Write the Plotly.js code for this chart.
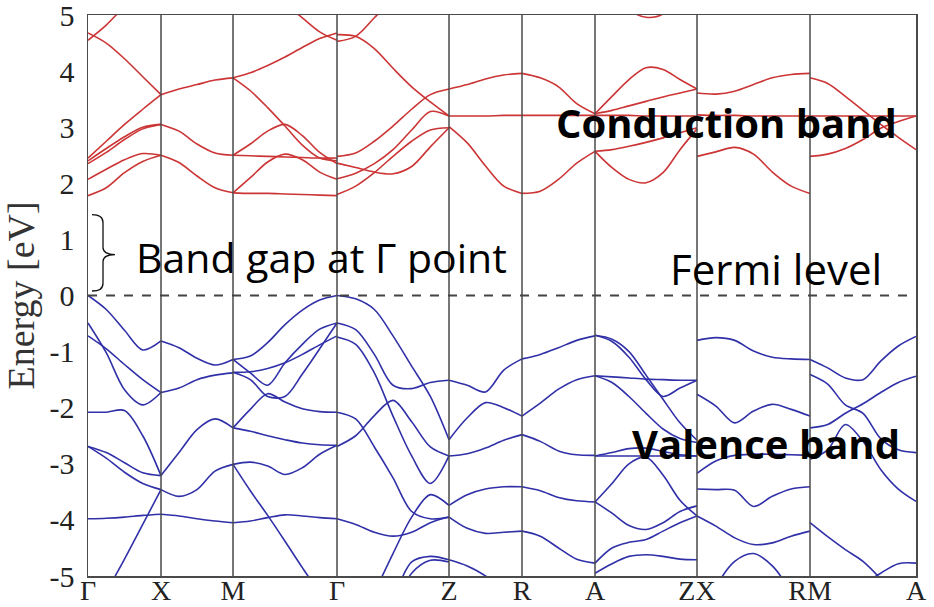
<!DOCTYPE html>
<html>
<head>
<meta charset="utf-8">
<script src="https://cdn.plot.ly/plotly-3.0.1.min.js"></script>
<style>html,body{margin:0;padding:0;background:#fff}#chart{width:934px;height:607px}</style>
</head>
<body>
<div id="chart"></div>
<script>
// High-symmetry path (k distance along path) and labels
const kLabels = ['Γ','X','M','Γ','Z','R','A','ZX','RM','A'];
const kPos = [0, 73, 145, 249, 361, 434, 507, 609, 722, 828];
const yTickVals = [5,4,3,2,1,0,-1,-2,-3,-4,-5];
const yTickText = ['5','4','3','2','1','0','-1','-2','-3','-4','-5'];

// ---------- Conduction bands (eV), sampled evenly between the two path points ----------
const cbGX = [
  [4.68, 4.50, 4.22, 3.90, 3.58],
  [4.55, 4.82, 5.15, 5.40, 5.60],
  [2.45, 2.75, 3.05, 3.32, 3.58],
  [2.40, 2.62, 2.83, 3.00, 3.05],
  [2.35, 2.55, 2.78, 2.97, 3.05],
  [2.07, 2.25, 2.42, 2.53, 2.50],
  [1.78, 1.92, 2.19, 2.39, 2.50]
];
const cbXM = [
  [3.58, 3.68, 3.76, 3.84, 3.88],
  [3.05, 2.93, 2.70, 2.54, 2.50],
  [2.50, 2.37, 2.13, 1.92, 1.83]
];
const cbMG = [
  [3.88, 3.97, 4.10, 4.25, 4.42, 4.58, 4.68],
  [6.00, 5.80, 5.50, 5.20, 4.95, 4.70, 4.55],
  [3.88, 3.65, 3.35, 3.02, 2.68, 2.45, 2.40],
  [2.50, 2.70, 2.93, 3.05, 2.85, 2.55, 2.35],
  [2.50, 2.49, 2.48, 2.47, 2.46, 2.45, 2.45],
  [1.83, 2.10, 2.38, 2.52, 2.42, 2.20, 2.07],
  [1.83, 1.82, 1.82, 1.81, 1.80, 1.79, 1.78]
];
const cbGZ = [
  [4.53, 4.62, 4.95, 5.30, 5.70, 6.10, 6.50],
  [4.65, 4.62, 4.40, 4.05, 3.72, 3.45, 3.20],
  [2.48, 2.54, 2.75, 3.02, 3.32, 3.58, 3.68],
  [2.36, 2.28, 2.20, 2.17, 2.30, 2.65, 2.99],
  [2.08, 2.18, 2.35, 2.60, 2.95, 3.28, 3.20],
  [1.80, 1.95, 2.19, 2.48, 2.75, 2.95, 2.99]
];
const cbZR = [
  [3.68, 3.76, 3.86, 3.93, 3.96],
  [3.20, 3.20, 3.20, 3.21, 3.21],
  [3.01, 2.72, 2.31, 1.95, 1.82]
];
const cbRA = [
  [3.96, 3.88, 3.72, 3.42, 3.24],
  [3.21, 3.21, 3.21, 3.21, 3.21],
  [1.82, 1.86, 2.07, 2.36, 2.57]
];
const cbAZ = [
  [3.24, 3.55, 3.85, 4.06, 4.03, 3.85, 3.68],
  [3.24, 3.30, 3.38, 3.46, 3.54, 3.61, 3.68],
  [3.21, 3.21, 3.21, 3.20, 3.20, 3.20, 3.20],
  [2.57, 2.28, 2.07, 2.01, 2.19, 2.60, 2.97],
  [2.57, 2.60, 2.66, 2.73, 2.81, 2.90, 2.99],
  [5.80, 5.50, 5.10, 4.96, 5.02, 5.40, 5.80]
];
const cbXR = [
  [3.61, 3.59, 3.64, 3.76, 3.88, 3.94, 3.96],
  [3.22, 3.21, 3.21, 3.20, 3.20, 3.20, 3.20],
  [2.48, 2.56, 2.64, 2.52, 2.20, 1.95, 1.82]
];
const cbMA = [
  [3.88, 3.78, 3.55, 3.30, 3.05, 2.82, 2.60],
  [2.48, 2.52, 2.62, 2.78, 2.98, 3.10, 3.20],
  [3.20, 3.20, 3.20, 3.20, 3.20, 3.20, 3.20]
];

// ---------- Valence bands (eV) ----------
const vbGX = [
  [0.00, -0.25, -0.62, -0.97, -0.81],
  [-0.49, -1.02, -1.68, -1.95, -1.73],
  [-0.72, -0.95, -1.23, -1.50, -1.73],
  [-2.08, -2.08, -2.05, -2.50, -3.21],
  [-2.69, -2.80, -2.98, -3.16, -3.21],
  [-2.69, -2.90, -3.15, -3.35, -3.46],
  [-3.98, -3.97, -3.95, -3.92, -3.90],
  [-6.00, -5.30, -4.70, -4.08, -3.46]
];
const vbXM = [
  [-0.81, -0.93, -1.12, -1.24, -1.14],
  [-1.73, -1.65, -1.50, -1.42, -1.38],
  [-3.21, -2.80, -2.39, -2.20, -2.36],
  [-3.46, -3.58, -3.46, -3.13, -3.01],
  [-3.90, -3.93, -3.98, -4.02, -4.05]
];
const vbMG = [
  [-1.14, -1.08, -0.84, -0.52, -0.26, -0.08, 0.00],
  [-1.37, -1.36, -1.30, -1.20, -1.05, -0.88, -0.72],
  [-1.14, -1.38, -1.60, -1.20, -0.87, -0.60, -0.49],
  [-1.37, -1.50, -1.80, -1.80, -1.40, -0.95, -0.49],
  [-2.36, -2.03, -1.75, -1.90, -2.02, -2.07, -2.08],
  [-2.36, -2.42, -2.50, -2.57, -2.63, -2.66, -2.67],
  [-3.01, -2.97, -3.04, -3.19, -3.07, -2.83, -2.67],
  [-3.01, -3.48, -3.92, -4.38, -4.85, -5.30, -5.70],
  [-4.05, -4.02, -3.96, -3.91, -3.93, -3.96, -3.98]
];
const vbGZ = [
  [0.00, -0.06, -0.25, -0.72, -1.26, -1.80, -2.57],
  [-0.49, -0.61, -1.05, -1.60, -1.66, -1.55, -1.51],
  [-0.74, -0.87, -1.38, -2.15, -2.86, -3.35, -2.86],
  [-2.69, -2.50, -2.14, -1.87, -2.25, -2.70, -2.86],
  [-2.08, -2.20, -2.70, -3.25, -3.85, -3.98, -3.95],
  [-3.98, -4.08, -4.22, -4.29, -4.22, -4.05, -3.95],
  [-6.50, -6.00, -5.30, -4.60, -3.95, -3.55, -3.74],
  [-7.00, -6.50, -6.00, -5.40, -4.75, -4.65, -4.71],
  [-7.00, -6.50, -6.10, -5.60, -4.95, -4.72, -4.75]
];
const vbZR = [
  [-1.51, -1.60, -1.72, -1.33, -1.13],
  [-2.57, -2.18, -1.91, -2.00, -2.15],
  [-2.86, -2.82, -2.72, -2.58, -2.48],
  [-3.74, -3.55, -3.45, -3.41, -3.41],
  [-3.95, -4.15, -4.24, -4.22, -4.20],
  [-4.71, -4.82, -5.00, -5.30, -5.60]
];
const vbRA = [
  [-1.13, -1.05, -0.93, -0.80, -0.72],
  [-2.15, -1.92, -1.67, -1.50, -1.43],
  [-2.48, -2.60, -2.77, -2.84, -2.85],
  [-3.41, -3.48, -3.60, -3.66, -3.68],
  [-4.20, -4.29, -4.50, -4.70, -4.77]
];
const vbAZ = [
  [-0.71, -0.82, -1.10, -1.50, -1.80, -1.65, -1.51],
  [-0.71, -0.78, -1.00, -1.42, -1.85, -2.27, -2.58],
  [-1.43, -1.45, -1.47, -1.49, -1.50, -1.51, -1.51],
  [-1.43, -1.55, -1.80, -2.10, -2.38, -2.55, -2.62],
  [-2.86, -2.80, -2.73, -2.72, -2.78, -2.84, -2.86],
  [-2.86, -2.86, -2.86, -2.86, -2.86, -2.86, -2.86],
  [-3.68, -3.35, -3.00, -2.88, -3.20, -3.65, -3.93],
  [-3.68, -3.88, -4.10, -4.17, -4.05, -3.85, -3.75],
  [-4.77, -4.50, -4.40, -4.35, -4.20, -4.05, -3.93],
  [-4.95, -4.78, -4.65, -4.62, -4.65, -4.70, -4.71]
];
const vbXR = [
  [-0.80, -0.75, -0.80, -0.99, -1.10, -1.13, -1.14],
  [-1.76, -1.97, -2.27, -2.06, -1.94, -2.03, -2.15],
  [-3.17, -2.95, -2.85, -2.83, -2.83, -2.84, -2.85],
  [-3.45, -3.46, -3.47, -3.76, -3.58, -3.45, -3.41],
  [-3.93, -4.11, -4.32, -4.44, -4.41, -4.29, -4.20],
  [-6.00, -5.20, -4.74, -4.60, -4.82, -5.30, -6.00]
];
const vbMA = [
  [-1.14, -1.29, -1.47, -1.50, -1.17, -0.90, -0.73],
  [-1.41, -1.58, -1.95, -2.10, -2.55, -2.75, -2.80],
  [-2.36, -2.30, -2.10, -1.93, -1.73, -1.55, -1.44],
  [-2.92, -2.75, -2.30, -2.60, -3.10, -3.45, -3.67],
  [-4.05, -4.30, -4.53, -4.74, -5.05, -5.40, -5.70],
  [-5.60, -5.50, -5.35, -5.15, -4.95, -4.78, -4.77]
];

const CB = '#cc3535', VB = '#3030a8';
const traces = [];
function addBands(list, i0, i1, color) {
  const k0 = kPos[i0], k1 = kPos[i1];
  list.forEach(e => {
    const n = e.length;
    const x = e.map((_, i) => k0 + (k1 - k0) * i / (n - 1));
    traces.push({x: x, y: e, type: 'scatter', mode: 'lines', hoverinfo: 'skip',
      line: {color: color, width: 1.6, shape: 'spline', smoothing: 0.9}, showlegend: false});
  });
}
addBands(cbGX,0,1,CB); addBands(cbXM,1,2,CB); addBands(cbMG,2,3,CB); addBands(cbGZ,3,4,CB);
addBands(cbZR,4,5,CB); addBands(cbRA,5,6,CB); addBands(cbAZ,6,7,CB); addBands(cbXR,7,8,CB); addBands(cbMA,8,9,CB);
addBands(vbGX,0,1,VB); addBands(vbXM,1,2,VB); addBands(vbMG,2,3,VB); addBands(vbGZ,3,4,VB);
addBands(vbZR,4,5,VB); addBands(vbRA,5,6,VB); addBands(vbAZ,6,7,VB); addBands(vbXR,7,8,VB); addBands(vbMA,8,9,VB);

const shapes = [];
kPos.slice(1, -1).forEach(k => shapes.push({type:'line', xref:'x', yref:'paper', x0:k, x1:k, y0:0, y1:1,
  line:{color:'#4a4a4a', width:1.5}}));
shapes.push({type:'line', xref:'paper', yref:'y', x0:0, x1:1, y0:0, y1:0, line:{color:'#444', width:2, dash:'dash'}});
// curly bracket marking the gap
shapes.push({type:'path', xref:'x', yref:'y',
  path:'M 4,1.44 Q 15,1.44 15,1.30 L 15,0.86 Q 15,0.73 27,0.73 Q 15,0.73 15,0.60 L 15,0.22 Q 15,0.08 4,0.08',
  line:{color:'#111', width:1.3}});

const serif = '"Liberation Serif", "DejaVu Serif", serif';
const sans = '"Open Sans", "Noto Sans", sans-serif';
const layout = {
  width: 934, height: 607,
  margin: {l: 88, r: 18, t: 15, b: 31},
  paper_bgcolor: '#fff', plot_bgcolor: '#fff',
  showlegend: false,
  xaxis: {range: [0, 828], tickvals: kPos, ticktext: kLabels, showgrid: false, zeroline: false,
    showline: true, mirror: true, linecolor: '#4a4a4a', linewidth: 1.5, ticks: '',
    tickfont: {family: serif, size: 28, color: '#222'}, ticklabelstandoff: -11, ticklabeloverflow: 'allow'},
  yaxis: {range: [-5, 5], tickvals: yTickVals, ticktext: yTickText, showgrid: false, zeroline: false,
    showline: true, mirror: true, linecolor: '#4a4a4a', linewidth: 1.5, ticks: '',
    tickfont: {family: serif, size: 30, color: '#222'}, ticklabelstandoff: 6, ticklabeloverflow: 'allow',
    title: {text: 'Energy [eV]', font: {family: serif, size: 38, color: '#333'}, standoff: 4}},
  shapes: shapes,
  annotations: [
    {text: 'Band gap at Γ point', xref: 'paper', yref: 'paper', x: 0.056, y: 0.569, xanchor: 'left', yanchor: 'middle',
      showarrow: false, font: {family: sans, size: 41, color: '#000'}},
    {text: 'Fermi level', xref: 'paper', yref: 'paper', x: 0.700, y: 0.549, xanchor: 'left', yanchor: 'middle',
      showarrow: false, font: {family: sans, size: 42, color: '#000'}},
    {text: '<b>Conduction band</b>', xref: 'paper', yref: 'paper', x: 0.563, y: 0.809, xanchor: 'left', yanchor: 'middle',
      showarrow: false, font: {family: sans, size: 40, color: '#000'}},
    {text: '<b>Valence band</b>', xref: 'paper', yref: 'paper', x: 0.655, y: 0.237, xanchor: 'left', yanchor: 'middle',
      showarrow: false, font: {family: sans, size: 40, color: '#000'}}
  ]
};
Plotly.newPlot('chart', traces, layout, {displayModeBar: false, staticPlot: true});
</script>
</body>
</html>
